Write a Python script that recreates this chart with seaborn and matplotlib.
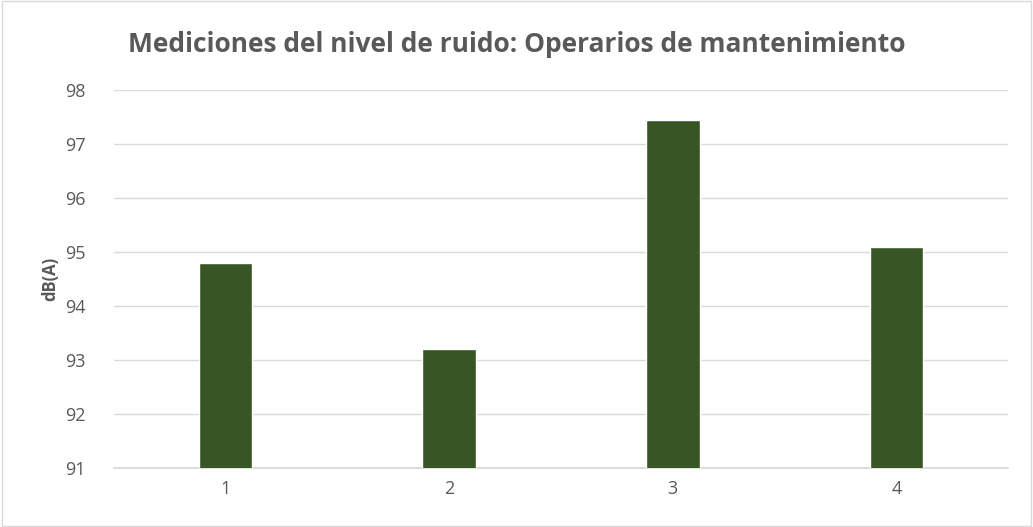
import matplotlib
matplotlib.use("Agg")
import matplotlib.pyplot as plt
import seaborn as sns
import pandas as pd

categories = ["1", "2", "3", "4"]
values = [94.8, 93.2, 97.45, 95.1]
y_ticks = [91, 92, 93, 94, 95, 96, 97, 98]

sns.set_theme(style="white")
plt.rcParams['font.family'] = ['Open Sans', 'DejaVu Sans']

df = pd.DataFrame({"cat": categories, "val": values})

fig = plt.figure(figsize=(10.33, 5.27), dpi=100)
ax = fig.add_axes([0.110, 0.112, 0.866, 0.717])
sns.barplot(data=df, x="cat", y="val", color="#375623", width=0.24,
            saturation=1, ax=ax, zorder=3)
ax.set_ylim(91, 98)
ax.set_yticks(y_ticks)
ax.set_xlim(-0.5, 3.5)
ax.grid(axis="y", color="#d9d9d9", linewidth=1, zorder=0)
ax.set_axisbelow(True)
for s in ["top", "right", "left"]:
    ax.spines[s].set_visible(False)
ax.spines["bottom"].set_color("#d9d9d9")
ax.tick_params(axis="both", length=0, labelsize=13, colors="#595959")
ax.tick_params(axis="y", pad=20)
ax.tick_params(axis="x", pad=9)
ax.set_xlabel("")
ax.set_ylabel("dB(A)", fontsize=12, fontweight="bold", color="#595959", labelpad=4)
fig.text(0.50, 0.915, "Mediciones del nivel de ruido: Operarios de mantenimiento",
         ha="center", va="center", fontsize=19, fontweight="bold", color="#595959")
fig.patches.append(plt.Rectangle((0.002, 0.002), 0.996, 0.996, transform=fig.transFigure,
                                 fill=False, edgecolor="#d9d9d9", linewidth=1))
fig.savefig("out.png", dpi=100, facecolor="white")
